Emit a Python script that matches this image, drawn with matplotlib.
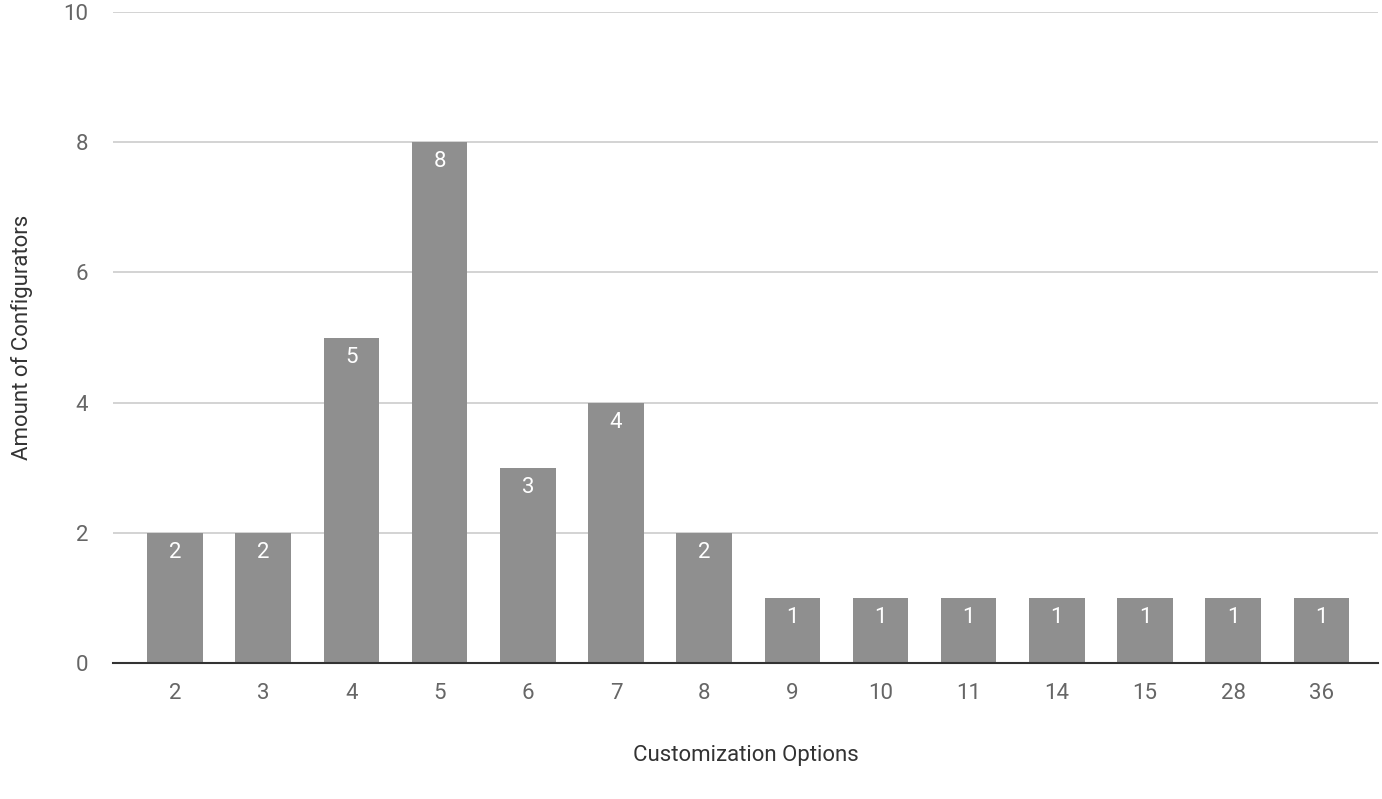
import matplotlib
matplotlib.use("Agg")
import matplotlib.pyplot as plt

categories = ["2", "3", "4", "5", "6", "7", "8", "9", "10", "11", "14", "15", "28", "36"]
values = [2, 2, 5, 8, 3, 4, 2, 1, 1, 1, 1, 1, 1, 1]
yticks = [0, 2, 4, 6, 8, 10]

plt.rcParams["font.family"] = "Roboto"
fig = plt.figure(figsize=(13.82, 7.99), dpi=100)
ax = fig.add_axes([0.082, 0.170, 0.915, 0.815])
x = list(range(len(categories)))
bars = ax.bar(x, values, width=0.63, color="#8f8f8f", zorder=3)
for xi, v in zip(x, values):
    ax.text(xi, v - 0.3, str(v), ha="center", va="center", color="white", fontsize=16, zorder=4)
ax.set_xlim(-0.7, 13.64)
ax.set_ylim(0, 10)
ax.set_yticks(yticks)
ax.set_xticks(x)
ax.set_xticklabels(categories)
ax.grid(axis="y", color="#cccccc", linewidth=1.2, zorder=0)
for s in ["top", "right", "left"]:
    ax.spines[s].set_visible(False)
ax.spines["bottom"].set_color("#333333")
ax.spines["bottom"].set_linewidth(1.5)
ax.spines["bottom"].set_zorder(5)
ax.tick_params(axis="both", length=0, labelsize=16, labelcolor="#666666", pad=14)
ax.tick_params(axis="y", pad=18)
ax.set_xlabel("Customization Options", fontsize=16, color="#333333", labelpad=30)
ax.set_ylabel("Amount of Configurators", fontsize=16, color="#333333", labelpad=22)
fig.savefig("out.png", dpi=100)
